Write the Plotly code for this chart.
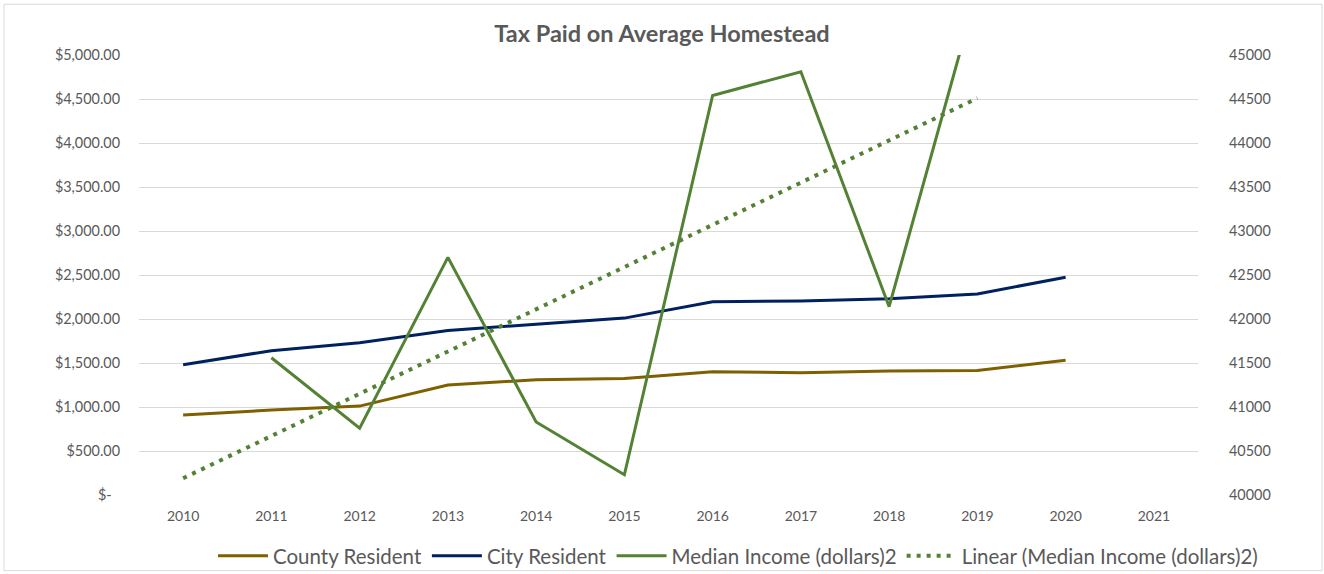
import numpy as np
import plotly.graph_objects as go

years = ["2010", "2011", "2012", "2013", "2014", "2015", "2016", "2017", "2018", "2019", "2020", "2021"]
county_resident = [910, 965, 1010, 1250, 1310, 1325, 1400, 1390, 1410, 1415, 1530, None]
city_resident = [1480, 1640, 1730, 1870, 1940, 2010, 2195, 2205, 2230, 2285, 2475, None]
median_income = [None, 41560, 40760, 42700, 40830, 40230, 44540, 44810, 42140, 45740, None, None]

left_ticks = [0, 500, 1000, 1500, 2000, 2500, 3000, 3500, 4000, 4500, 5000]
right_ticks = [40000, 40500, 41000, 41500, 42000, 42500, 43000, 43500, 44000, 44500, 45000]

# Excel-style linear trendline (category index as x), spanning first..last category with data
idx = np.arange(1, len(years) + 1)
valid = [i for i, v in enumerate(median_income) if v is not None]
xs = idx[valid]
ys = np.array([median_income[i] for i in valid], dtype=float)
slope, intercept = np.polyfit(xs, ys, 1)
trend_end = valid[-1]
trend_x = years[: trend_end + 1]
trend_y = [float(slope * k + intercept) for k in idx[: trend_end + 1]]

def money(v):
    return "$-\u2007" if v == 0 else f"${v:,.2f}"

GRAY = "#595959"
FONT = "Lato"
TICK = 14.4

fig = go.Figure()
fig.add_trace(go.Scatter(x=years, y=county_resident, name="County Resident", mode="lines",
                         line=dict(color="#7F6000", width=3)))
fig.add_trace(go.Scatter(x=years, y=city_resident, name="City Resident", mode="lines",
                         line=dict(color="#002060", width=3)))
fig.add_trace(go.Scatter(x=years, y=median_income, name="Median Income (dollars)2", mode="lines",
                         line=dict(color="#548235", width=3), yaxis="y2", connectgaps=False))
fig.add_trace(go.Scatter(x=trend_x, y=trend_y, name="Linear (Median Income (dollars)2)", mode="lines",
                         line=dict(color="#548235", width=4, dash="4px,6px"), yaxis="y2"))

fig.update_layout(
    width=1324, height=574,
    margin=dict(l=139, r=126, t=55, b=77),
    paper_bgcolor="white", plot_bgcolor="white",
    font=dict(family=FONT, color=GRAY, size=TICK),
    title=dict(text="<b>Tax Paid on Average Homestead</b>", x=0.5, xref="container", xanchor="center",
               y=1 - 34 / 574, yref="container", yanchor="middle",
               font=dict(family=FONT, size=23.5, color=GRAY)),
    xaxis=dict(type="category", categoryorder="array", categoryarray=years, range=[-0.5, 11.5],
               showgrid=False, zeroline=False, showline=False, ticks="", ticklabelstandoff=11,
               tickfont=dict(size=14, color=GRAY)),
    yaxis=dict(range=[0, 5000], tickvals=left_ticks, ticktext=[money(v) for v in left_ticks],
               showgrid=True, gridcolor="#D9D9D9", gridwidth=1, zeroline=False, showline=False,
               ticks="", ticklabelstandoff=18, tickfont=dict(size=TICK, color=GRAY)),
    yaxis2=dict(range=[40000, 45000], tickvals=right_ticks, ticktext=[str(v) for v in right_ticks],
                overlaying="y", side="right", anchor="x", showgrid=False, zeroline=False, showline=False,
                ticks="", ticklabelstandoff=30,
                tickfont=dict(size=TICK, color=GRAY)),
    legend=dict(orientation="h", x=738 / 1324, xref="container", xanchor="center",
                y=1 - 556 / 574, yref="container", yanchor="middle",
                font=dict(family=FONT, size=20.5, color=GRAY), itemwidth=50, tracegroupgap=0,
                bgcolor="rgba(0,0,0,0)"),
    showlegend=True,
    shapes=[dict(type="rect", xref="paper", yref="paper",
                 x0=(4 - 139) / 1059, x1=(1322 - 139) / 1059,
                 y0=(497 - 573) / 442, y1=(497 - 4) / 442,
                 line=dict(color="#D9D9D9", width=1), fillcolor="rgba(0,0,0,0)", layer="below")],
)

fig.write_html("out.html", config={"displayModeBar": False},
               post_script="document.body.style.margin='0px';")
